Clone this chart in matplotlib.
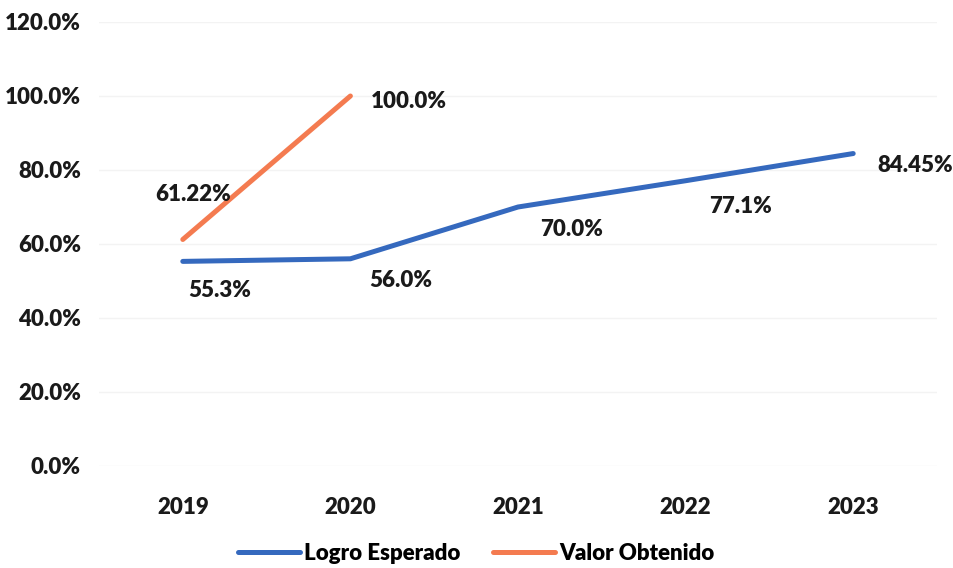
import matplotlib
matplotlib.use("Agg")
import matplotlib.pyplot as plt

years = ["2019", "2020", "2021", "2022", "2023"]
logro = [55.3, 56.0, 70.0, 77.1, 84.45]
logro_labels = ["55.3%", "56.0%", "70.0%", "77.1%", "84.45%"]
valor = [61.22, 100.0]
valor_labels = ["61.22%", "100.0%"]
y_ticks = [0, 20, 40, 60, 80, 100, 120]

# label offsets in pixels (dx, dy)
logro_off = [(37, -29), (50, -22), (54, -23), (55, -26), (62, -12)]
valor_off = [(10, 45), (58, -5)]

plt.rcParams['font.family'] = ['Lato', 'DejaVu Sans']
FS = 16
W = 'heavy'

fig = plt.figure(figsize=(9.54, 5.68), dpi=100)
ax = fig.add_axes([99 / 954, 102 / 568, 838 / 954, 444 / 568])

x = list(range(len(years)))
blue = "#3569BE"
orange = "#F47B50"
ax.plot(x, logro, color=blue, lw=3.6, solid_capstyle='round', label="Logro Esperado")
ax.plot(x[:len(valor)], valor, color=orange, lw=3.6, solid_capstyle='round', label="Valor Obtenido")

for i, (v, t) in enumerate(zip(logro, logro_labels)):
    ax.annotate(t, (i, v), xytext=logro_off[i], textcoords='offset pixels',
                ha='center', va='center', fontsize=FS, fontweight=W, color='#1a1a1a')
for i, (v, t) in enumerate(zip(valor, valor_labels)):
    ax.annotate(t, (i, v), xytext=valor_off[i], textcoords='offset pixels',
                ha='center', va='center', fontsize=FS, fontweight=W, color='#1a1a1a')

ax.set_xlim(-0.5, len(years) - 0.5)
ax.set_ylim(0, 120)
ax.set_xticks(x)
ax.set_xticklabels(years)
ax.set_yticks(y_ticks)
ax.set_yticklabels([f"{v:.1f}%" for v in y_ticks])
ax.tick_params(length=0, labelsize=FS, colors='#1a1a1a')
ax.tick_params(axis='x', pad=22)
ax.tick_params(axis='y', pad=13)
for lab in ax.get_xticklabels() + ax.get_yticklabels():
    lab.set_fontweight(W)
ax.grid(axis='y', color='#f3f3f3', lw=1)
ax.set_axisbelow(True)
for s in ax.spines.values():
    s.set_visible(False)

fig.legend(loc='center', bbox_to_anchor=(0.499, 0.026), ncol=2, frameon=False,
           handlelength=2.8, handletextpad=0.15, columnspacing=1.5,
           prop={'weight': W, 'size': FS})

fig.savefig("out.png", dpi=100)
